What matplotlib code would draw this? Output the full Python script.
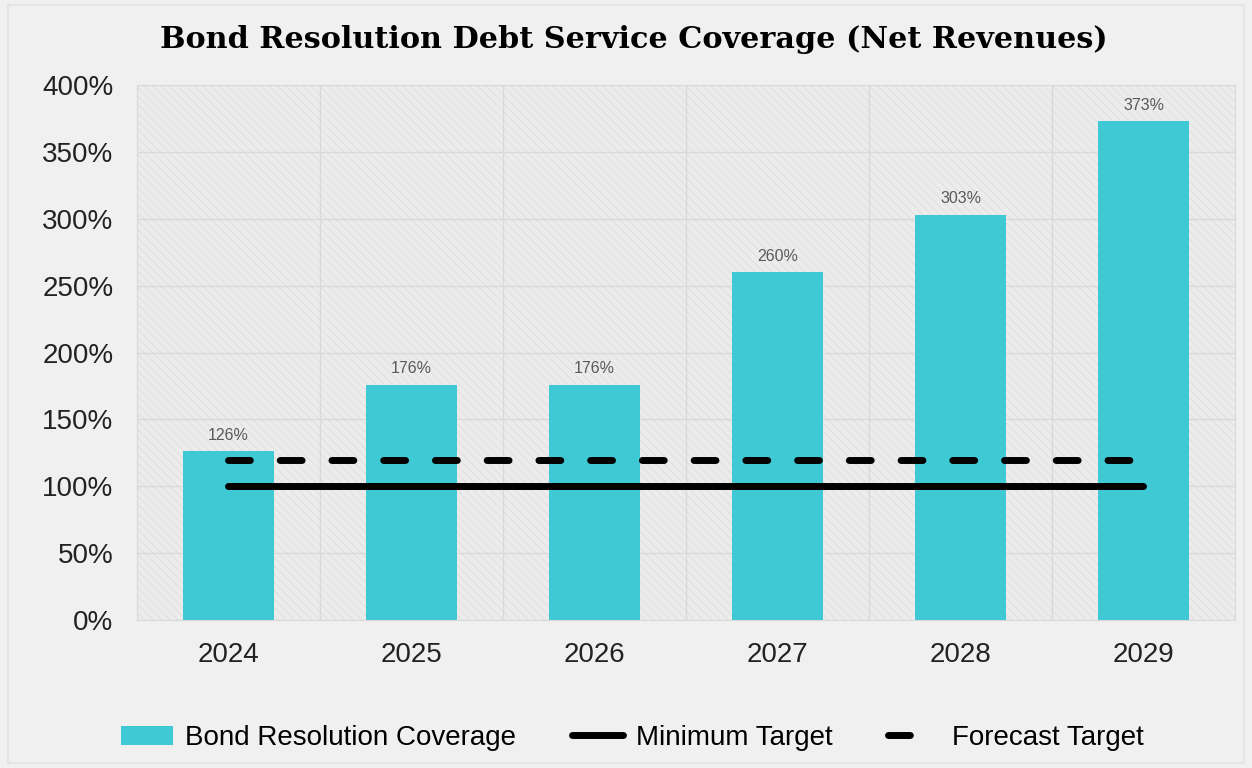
import numpy as np
import matplotlib.pyplot as plt
from matplotlib.lines import Line2D
from matplotlib.patches import Rectangle
from matplotlib.ticker import PercentFormatter

years = ['2024', '2025', '2026', '2027', '2028', '2029']
coverage = [126, 176, 176, 260, 303, 373]
minimum_target = [100, 100, 100, 100, 100, 100]
forecast_target = [120, 120, 120, 120, 120, 120]

plt.rcParams['font.family'] = ['Liberation Sans', 'DejaVu Sans']
plt.rcParams['hatch.linewidth'] = 0.6

fig = plt.figure(figsize=(12.52, 7.68), dpi=100, facecolor='#f0f0f0')
# thin frame around the chart area
fig.add_artist(Rectangle((0.006, 0.006), 0.988, 0.988, transform=fig.transFigure,
                         facecolor='none', edgecolor='#e2e2e2', linewidth=1.2))

ax = fig.add_axes([0.1094, 0.1927, 0.877, 0.6966])
ax.set_facecolor('#ececec')

x = np.arange(len(years))

# faint diagonal texture behind everything
ax.add_patch(Rectangle((0, 0), 1, 1, transform=ax.transAxes, facecolor='none',
                       edgecolor='#dedede', hatch='\\\\\\\\', linewidth=0, zorder=0))

bars = ax.bar(x, coverage, width=0.5, color='#3ec9d5', zorder=2,
              label='Bond Resolution Coverage')
min_line, = ax.plot(x, minimum_target, color='black', linewidth=5, solid_capstyle='round',
                    zorder=3, label='Minimum Target')
ax.plot(x, forecast_target, color='black', linewidth=5, linestyle=(0, (3.15, 4.3)),
        dash_capstyle='round', zorder=3)

for xi, v in zip(x, coverage):
    ax.annotate(f'{v}%', (xi, v), xytext=(0, 6), textcoords='offset points',
                ha='center', va='bottom', fontsize=11.5, color='#595959')

ax.set_xlim(-0.5, len(years) - 0.5)
ax.set_ylim(0, 400)
ax.set_yticks(range(0, 401, 50))
ax.yaxis.set_major_formatter(PercentFormatter(decimals=0))
ax.set_xticks(x)
ax.set_xticklabels(years)
ax.set_xticks(np.arange(-0.5, len(years), 1), minor=True)

ax.grid(True, axis='y', which='major', color='#d9d9d9', linewidth=1, zorder=1)
ax.grid(True, axis='x', which='minor', color='#d9d9d9', linewidth=1, zorder=1)
ax.set_axisbelow(True)
ax.tick_params(axis='both', which='both', length=0, labelsize=20, colors='#222222')
ax.tick_params(axis='x', pad=16)
ax.tick_params(axis='y', pad=17)
for s in ax.spines.values():
    s.set_color('#d9d9d9')

fig.text(0.506, 0.948, 'Bond Resolution Debt Service Coverage (Net Revenues)',
         ha='center', va='center', fontsize=21.8, fontweight='bold',
         family='DejaVu Serif', color='black')

# legend key for the dashed line shows a single dash
forecast_key = Line2D([], [], color='black', linewidth=5, linestyle=(0, (3.15, 12)),
                      dash_capstyle='round', label='Forecast Target')
handles = [bars, min_line, forecast_key]
fig.legend(handles=handles, labels=[h.get_label() for h in handles],
           loc='center', bbox_to_anchor=(0.505, 0.039), ncol=3, frameon=False,
           fontsize=20, handlelength=1.85, columnspacing=2.0, handletextpad=0.45)

fig.savefig('out.png', dpi=100, facecolor=fig.get_facecolor())
